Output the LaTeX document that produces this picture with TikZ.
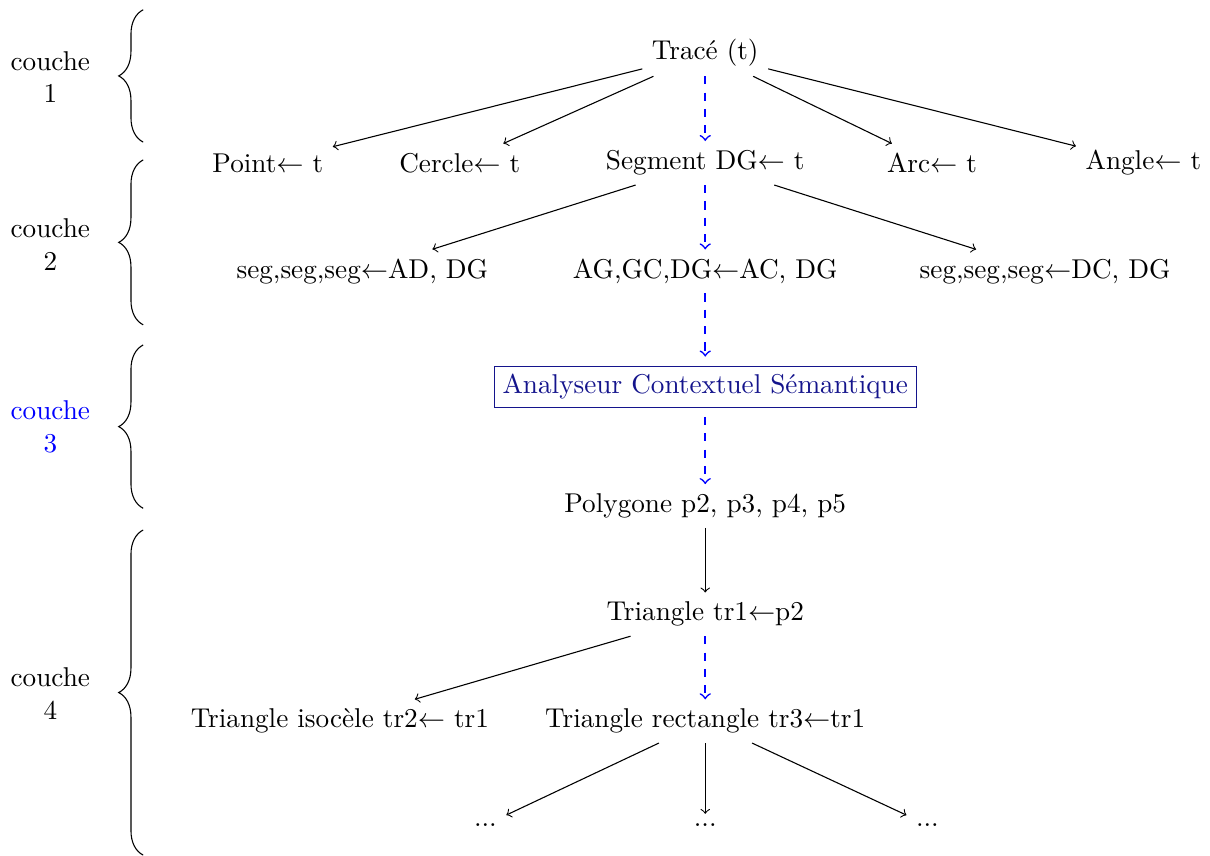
\documentclass[tikz,border=0pt]{standalone}
\usepackage{tikz}
\usepackage{xcolor}
\usetikzlibrary{decorations.pathreplacing}
\definecolor{Navy}{RGB}{20,20,140}

\begin{document}
\begin{tikzpicture}[
    >=to,
    suite/.style={->,blue,dashed,semithick},
    layer/.style={align=center},
    accolade/.style={decorate,decoration={brace,amplitude=9pt}}
]
  \useasboundingbox (-9.11,-10.40) rectangle (6.52,0.646);

  % couches
  \draw[accolade] (-7.26,-1.19) -- (-7.26,0.52);
  \draw[accolade] (-7.26,-3.55) -- (-7.26,-1.42);
  \draw[accolade] (-7.26,-5.92) -- (-7.26,-3.81);
  \draw[accolade] (-7.26,-10.40) -- (-7.26,-6.20);
  \node[layer] (c1) at (-8.46,-0.35) {couche\\1};
  \node[layer] (c2) at (-8.46,-2.51) {couche\\2};
  \node[layer,blue] (c3) at (-8.46,-4.87) {couche\\3};
  \node[layer] (c4) at (-8.46,-8.31) {couche\\4};

  % arbre
  \node (trace) at (0,-0.04) {Trac\'e (t)};

  \node (point) at (-5.65,-1.46) {Point$\leftarrow$ t};
  \node (cercle) at (-3.17,-1.46) {Cercle$\leftarrow$ t};
  \node (segment) at (0,-1.46) {Segment DG$\leftarrow$ t};
  \node (arc) at (2.93,-1.46) {Arc$\leftarrow$ t};
  \node (angle) at (5.66,-1.46) {Angle$\leftarrow$ t};

  \node (segAD) at (-4.43,-2.86) {seg,seg,seg$\leftarrow$AD, DG};
  \node (agDG) at (0,-2.86) {AG,GC,DG$\leftarrow$AC, DG};
  \node (segDC) at (4.39,-2.86) {seg,seg,seg$\leftarrow$DC, DG};

  \node[draw=Navy,text=Navy,inner sep=3pt,outer sep=3.5pt] (acs) at (0,-4.35)
    {Analyseur Contextuel S\'emantique};

  \node (polygone) at (0,-5.89) {Polygone p2, p3, p4, p5};
  \node (triangle) at (0,-7.29) {Triangle tr1$\leftarrow$p2};

  \node (isocele) at (-4.72,-8.67) {Triangle isoc\`ele tr2$\leftarrow$ tr1};
  \node (rectangle) at (0,-8.67) {Triangle rectangle tr3$\leftarrow$tr1};

  \node (dotsL) at (-2.84,-10.01) {...};
  \node (dotsM) at (0,-10.01) {...};
  \node (dotsR) at (2.87,-10.01) {...};

  \draw[->] (trace) -- (point);
  \draw[->] (trace) -- (cercle);
  \draw[suite] (trace) -- (segment);
  \draw[->] (trace) -- (arc);
  \draw[->] (trace) -- (angle);

  \draw[->] (segment) -- (segAD);
  \draw[suite] (segment) -- (agDG);
  \draw[->] (segment) -- (segDC);

  \draw[suite] (agDG) -- (acs);
  \draw[suite] (acs) -- (polygone);
  \draw[->] (polygone) -- (triangle);

  \draw[->] (triangle) -- (isocele);
  \draw[suite] (triangle) -- (rectangle);

  \draw[->] (rectangle) -- (dotsL);
  \draw[->] (rectangle) -- (dotsM);
  \draw[->] (rectangle) -- (dotsR);
\end{tikzpicture}
\end{document}
